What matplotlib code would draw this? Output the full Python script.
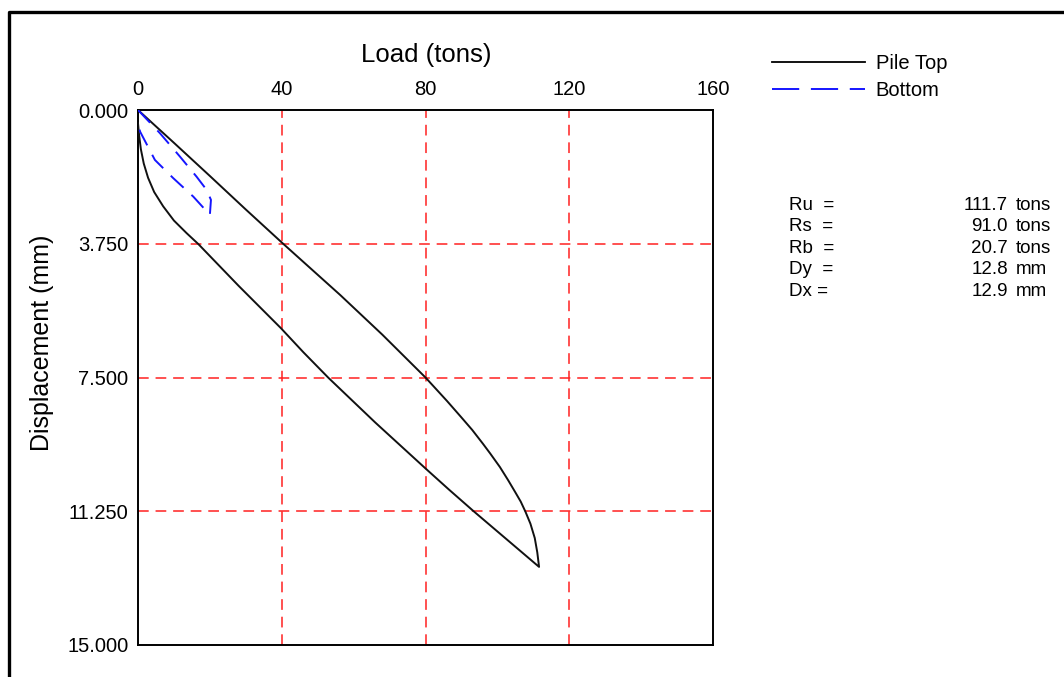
import matplotlib
matplotlib.use('Agg')
import matplotlib.pyplot as plt
from matplotlib.lines import Line2D

plt.rcParams['font.family'] = ['Liberation Sans', 'DejaVu Sans']

# Pile top: loading branch then unloading branch (load in tons, displacement in mm)
top_load = [0, 10, 20, 30, 40.5, 56.3, 68, 80, 86, 90, 93, 96, 98, 100.7, 103, 105, 106.5, 107.8,
            109.2, 110.4, 111.1, 111.6,
            102.5, 93.4, 86.5, 80, 66, 53, 46, 39.8, 28, 16.8, 13.5, 10, 7, 4.5, 2.8, 1.6, 0.8, 0.3, 0]
top_disp = [0, 0.92, 1.85, 2.79, 3.76, 5.19, 6.3, 7.5, 8.16, 8.62, 8.97, 9.36, 9.63, 10.01, 10.38, 10.72, 10.98, 11.26,
            11.6, 12.0, 12.4, 12.81,
            12.03, 11.25, 10.64, 10.05, 8.76, 7.51, 6.79, 6.12, 4.93, 3.76, 3.45, 3.1, 2.7, 2.3, 1.9, 1.5, 1.1, 0.7, 0.37]

# Pile bottom
bot_load = [0, 6.1, 11.7, 16.3, 19.1, 20.3, 20.0, 15.4, 9.8, 4.7, 0.6, 0]
bot_disp = [0, 0.65, 1.31, 1.87, 2.24, 2.52, 2.94, 2.43, 1.91, 1.40, 0.61, 0.4]

x_ticks = [0, 40, 80, 120, 160]
y_ticks = [0.0, 3.75, 7.5, 11.25, 15.0]

res_names = ['Ru  =', 'Rs  =', 'Rb  =', 'Dy  =', 'Dx =']
res_values = ['111.7', '91.0', '20.7', '12.8', '12.9']
res_units = ['tons', 'tons', 'tons', 'mm', 'mm']

fig = plt.figure(figsize=(10.64, 6.77), dpi=100)
ax = fig.add_axes([138 / 1064, 1 - 645 / 677, 575 / 1064, 535 / 677])

# grid lines
for gx in x_ticks[1:-1]:
    ax.axvline(gx, color='#ff2020', lw=1.1, dashes=(7, 4.5), zorder=1)
for gy in y_ticks[1:-1]:
    ax.axhline(gy, color='#ff2020', lw=1.1, dashes=(7, 4.5), zorder=1)

ax.plot(top_load, top_disp, color='#111111', lw=1.4, zorder=3)
ax.plot(bot_load, bot_disp, color='#1515ff', lw=1.4, dashes=(9, 5.5), zorder=3)

ax.set_xlim(0, 160)
ax.set_ylim(15, 0)
ax.xaxis.tick_top()
ax.set_xticks(x_ticks)
ax.set_yticks(y_ticks)
ax.set_yticklabels(['%.3f' % v for v in y_ticks])
ax.tick_params(axis='x', length=0, pad=8, labelsize=14.5)
ax.tick_params(axis='y', length=0, pad=7, labelsize=14.5)
for s in ax.spines.values():
    s.set_linewidth(1.4)

fig.text(426 / 1064, 1 - 55 / 677, 'Load (tons)', ha='center', va='center', fontsize=18.5)
fig.text(42 / 1064, 1 - 343 / 677, 'Displacement (mm)', ha='center', va='center',
         rotation=90, fontsize=18)

# legend
handles = [Line2D([], [], color='black', lw=1.3),
           Line2D([], [], color='#1515ff', lw=1.4, dashes=(14, 6))]
fig.legend(handles, ['Pile Top', 'Bottom'], loc='upper left',
           bbox_to_anchor=(772 / 1064, 1 - 54 / 677), frameon=False, fontsize=14.5,
           handlelength=4.6, handletextpad=0.55, labelspacing=0.4, borderpad=0,
           borderaxespad=0)

# results
row_y = [205, 226.7, 248.3, 270, 291.7]
for name, val, unit, yy in zip(res_names, res_values, res_units, row_y):
    fy = 1 - yy / 677
    fig.text(789 / 1064, fy, name, ha='left', va='center', fontsize=13.5)
    fig.text(1008 / 1064, fy, val, ha='right', va='center', fontsize=13.5)
    fig.text(1016 / 1064, fy, unit, ha='left', va='center', fontsize=13.5)

# outer frame (top and left edges)
fx = 9 / 1064
fy = 1 - 12 / 677
fig.add_artist(Line2D([fx, fx, 1.01], [-0.01, fy, fy], transform=fig.transFigure,
                      color='black', lw=2.4))

fig.savefig('out.png', dpi=100)
